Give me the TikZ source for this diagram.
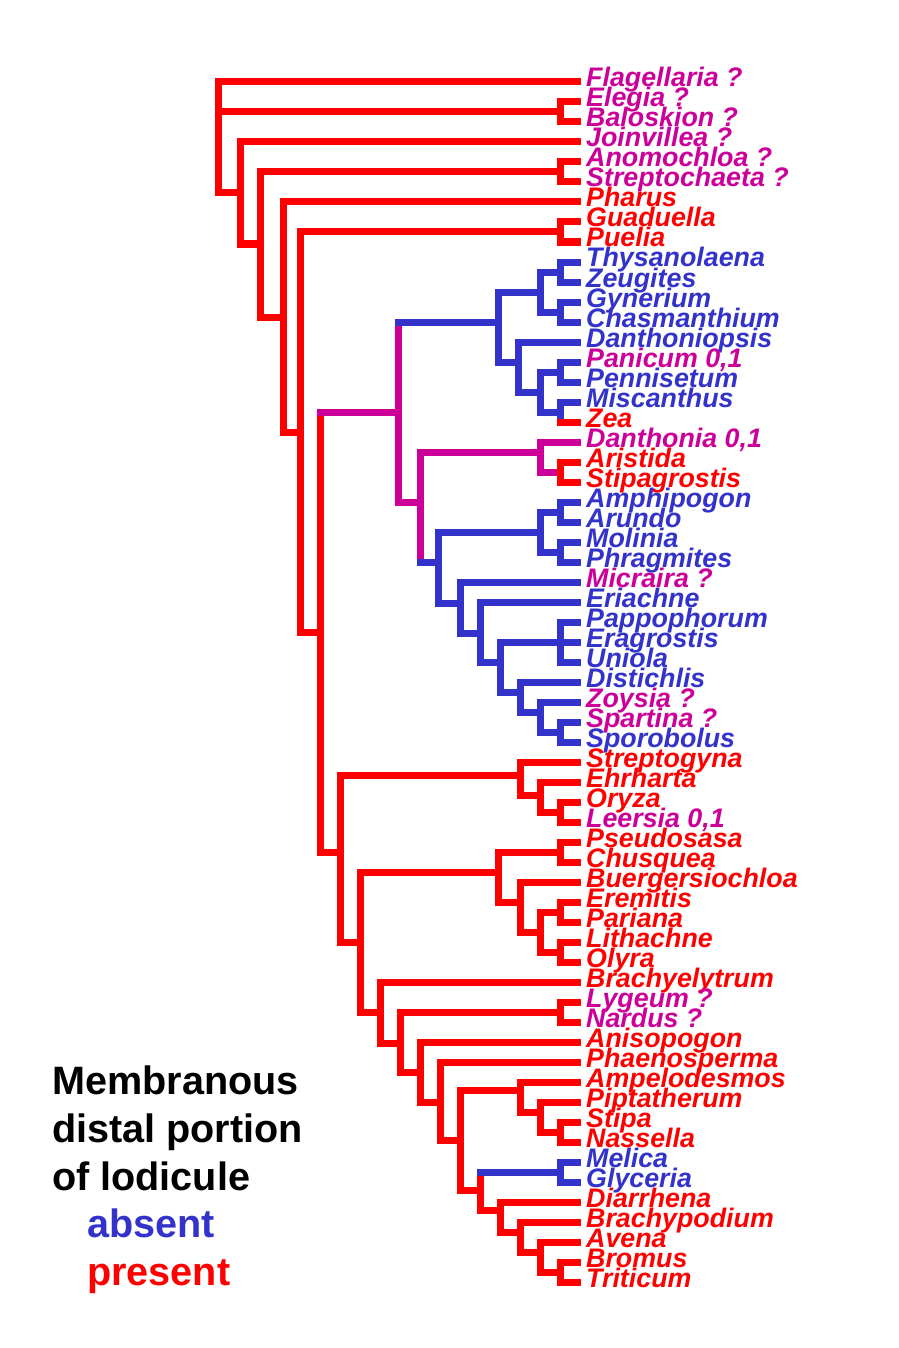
\documentclass[tikz,border=0pt]{standalone}
\usepackage{fontspec}
\setmainfont{Liberation Sans}
\definecolor{pres}{RGB}{255,0,0}
\definecolor{absn}{RGB}{51,51,204}
\definecolor{ambg}{RGB}{204,0,153}
\tikzset{
  br/.style={line width=7bp, line cap=rect},
  taxon/.style={anchor=base west, inner sep=0pt, font=\fontsize{26.8bp}{26.8bp}\selectfont\bfseries\itshape},
  legend/.style={anchor=base west, inner sep=0pt, font=\fontsize{39.6bp}{39.6bp}\selectfont\bfseries}
}
% vertical bar of a node, and the horizontal to one of its children
\newcommand\spine[4]{\draw[br,#1] (#2 |- #3) -- (#2 |- #4);}
\newcommand\kid[3]{\draw[br,#1] (#2 |- #3) -- (#3);}
\newcommand\fork[4][pres]{\spine{#1}{#2}{#3}{#4}\kid{#1}{#2}{#3}\kid{#1}{#2}{#4}}

\begin{document}
\begin{tikzpicture}[x=1bp,y=-1bp]
  %%%%% START %%%%%
  \fill[white] (0,0) rectangle (898,1348);
  \useasboundingbox (0,0) rectangle (898,1348);

  % taxa
  \foreach \i/\nm/\c in {1/Flagellaria ?/ambg, 2/Elegia ?/ambg, 3/Baloskion ?/ambg,
      4/Joinvillea ?/ambg, 5/Anomochloa ?/ambg, 6/Streptochaeta ?/ambg, 7/Pharus/pres,
      8/Guaduella/pres, 9/Puelia/pres, 10/Thysanolaena/absn, 11/Zeugites/absn,
      12/Gynerium/absn, 13/Chasmanthium/absn, 14/Danthoniopsis/absn,
      15/{Panicum 0,1}/ambg, 16/Pennisetum/absn, 17/Miscanthus/absn, 18/Zea/pres,
      19/{Danthonia 0,1}/ambg, 20/Aristida/pres, 21/Stipagrostis/pres,
      22/Amphipogon/absn, 23/Arundo/absn, 24/Molinia/absn, 25/Phragmites/absn,
      26/Micraira ?/ambg, 27/Eriachne/absn, 28/Pappophorum/absn, 29/Eragrostis/absn,
      30/Uniola/absn, 31/Distichlis/absn, 32/Zoysia ?/ambg, 33/Spartina ?/ambg,
      34/Sporobolus/absn, 35/Streptogyna/pres, 36/Ehrharta/pres, 37/Oryza/pres,
      38/{Leersia 0,1}/ambg, 39/Pseudosasa/pres, 40/Chusquea/pres,
      41/Buergersiochloa/pres, 42/Eremitis/pres, 43/Pariana/pres, 44/Lithachne/pres,
      45/Olyra/pres, 46/Brachyelytrum/pres, 47/Lygeum ?/ambg, 48/Nardus ?/ambg,
      49/Anisopogon/pres, 50/Phaenosperma/pres, 51/Ampelodesmos/pres,
      52/Piptatherum/pres, 53/Stipa/pres, 54/Nassella/pres, 55/Melica/absn,
      56/Glyceria/absn, 57/Diarrhena/pres, 58/Brachypodium/pres, 59/Avena/pres,
      60/Bromus/pres, 61/Triticum/pres}{
    \coordinate (t\i) at (577,{82+20*(\i-1)});
    \node[taxon,text=\c] (l\i) at (586,{87+20*(\i-1)}) {\nm};
  }

  % internal nodes
  \coordinate (root) at (218,137);
  \coordinate (nEB) at (560,112);
  \coordinate (nA) at (240,193);
  \coordinate (nB) at (260,244);
  \coordinate (nAS) at (560,172);
  \coordinate (nC) at (283,317);
  \coordinate (nD) at (300,432);
  \coordinate (nGP) at (560,232);
  \coordinate (nE) at (320,632);
  \coordinate (nPM) at (398,412);
  \coordinate (nG) at (498,322);
  \coordinate (nG1) at (540,292);
  \coordinate (nTZ) at (560,272);
  \coordinate (nGC) at (560,312);
  \coordinate (nG2) at (518,362);
  \coordinate (nG3) at (540,392);
  \coordinate (nPP) at (560,372);
  \coordinate (nMZ) at (560,412);
  \coordinate (nH) at (420,502);
  \coordinate (nDA) at (540,452);
  \coordinate (nAR) at (560,472);
  \coordinate (nI) at (438,562);
  \coordinate (nAM) at (540,532);
  \coordinate (nAA) at (560,512);
  \coordinate (nMP) at (560,552);
  \coordinate (nJ) at (460,603);
  \coordinate (nK) at (480,633);
  \coordinate (nL) at (500,662);
  \coordinate (nPEU) at (560,642);
  \coordinate (nM) at (520,692);
  \coordinate (nN) at (540,712);
  \coordinate (nSS) at (560,732);
  \coordinate (nF) at (340,852);
  \coordinate (nO) at (520,775);
  \coordinate (nO2) at (540,795);
  \coordinate (nOL) at (560,812);
  \coordinate (nP) at (360,942);
  \coordinate (nQ) at (498,872);
  \coordinate (nPC) at (560,852);
  \coordinate (nQ2) at (520,902);
  \coordinate (nQ3) at (540,932);
  \coordinate (nEP) at (560,912);
  \coordinate (nLO) at (560,952);
  \coordinate (nBr) at (380,1012);
  \coordinate (nS) at (400,1043);
  \coordinate (nLN) at (560,1012);
  \coordinate (nT) at (420,1072);
  \coordinate (nU) at (440,1102);
  \coordinate (nV) at (460,1140);
  \coordinate (nW) at (520,1090);
  \coordinate (nW2) at (540,1112);
  \coordinate (nSN) at (560,1132);
  \coordinate (nX) at (480,1190);
  \coordinate (nMG) at (560,1172);
  \coordinate (nY) at (500,1210);
  \coordinate (nZ) at (520,1232);
  \coordinate (nZ2) at (540,1252);
  \coordinate (nBT) at (560,1272);

  % early lineages
  \spine{pres}{root}{t1}{nA}
  \kid{pres}{root}{t1} \kid{pres}{root}{nEB} \kid{pres}{root}{nA}
  \fork{nEB}{t2}{t3}
  \fork{nA}{t4}{nB}
  \fork{nB}{nAS}{nC}
  \fork{nAS}{t5}{t6}
  \fork{nC}{t7}{nD}
  \fork{nD}{nGP}{nE}
  \fork{nGP}{t8}{t9}
  \spine{pres}{nE}{nPM}{nF}
  \kid{ambg}{nE}{nPM} \kid{pres}{nE}{nF}

  % PACCMAD and relatives
  \spine{ambg}{nPM}{nG}{nH}
  \kid{absn}{nPM}{nG} \kid{ambg}{nPM}{nH}
  \fork[absn]{nG}{nG1}{nG2}
  \fork[absn]{nG1}{nTZ}{nGC}
  \fork[absn]{nTZ}{t10}{t11}
  \fork[absn]{nGC}{t12}{t13}
  \fork[absn]{nG2}{t14}{nG3}
  \fork[absn]{nG3}{nPP}{nMZ}
  \fork[absn]{nPP}{t15}{t16}
  \spine{absn}{nMZ}{t17}{t18}
  \kid{absn}{nMZ}{t17} \kid{pres}{nMZ}{t18}
  \spine{ambg}{nH}{nDA}{nI}
  \kid{ambg}{nH}{nDA} \kid{absn}{nH}{nI}
  \fork[ambg]{nDA}{t19}{nAR}
  \fork{nAR}{t20}{t21}
  \fork[absn]{nI}{nAM}{nJ}
  \fork[absn]{nAM}{nAA}{nMP}
  \fork[absn]{nAA}{t22}{t23}
  \fork[absn]{nMP}{t24}{t25}
  \fork[absn]{nJ}{t26}{nK}
  \fork[absn]{nK}{t27}{nL}
  \fork[absn]{nL}{nPEU}{nM}
  \spine{absn}{nPEU}{t28}{t30}
  \kid{absn}{nPEU}{t28} \kid{absn}{nPEU}{t29} \kid{absn}{nPEU}{t30}
  \fork[absn]{nM}{t31}{nN}
  \fork[absn]{nN}{t32}{nSS}
  \fork[absn]{nSS}{t33}{t34}

  % BEP
  \fork{nF}{nO}{nP}
  \fork{nO}{t35}{nO2}
  \fork{nO2}{t36}{nOL}
  \fork{nOL}{t37}{t38}
  \fork{nP}{nQ}{nBr}
  \fork{nQ}{nPC}{nQ2}
  \fork{nPC}{t39}{t40}
  \fork{nQ2}{t41}{nQ3}
  \fork{nQ3}{nEP}{nLO}
  \fork{nEP}{t42}{t43}
  \fork{nLO}{t44}{t45}
  \fork{nBr}{t46}{nS}
  \fork{nS}{nLN}{nT}
  \fork{nLN}{t47}{t48}
  \fork{nT}{t49}{nU}
  \fork{nU}{t50}{nV}
  \fork{nV}{nW}{nX}
  \fork{nW}{t51}{nW2}
  \fork{nW2}{t52}{nSN}
  \fork{nSN}{t53}{t54}
  \spine{pres}{nX}{nMG}{nY}
  \kid{absn}{nX}{nMG} \kid{pres}{nX}{nY}
  \fork[absn]{nMG}{t55}{t56}
  \fork{nY}{t57}{nZ}
  \fork{nZ}{t58}{nZ2}
  \fork{nZ2}{t59}{nBT}
  \fork{nBT}{t60}{t61}

  % legend
  \node[legend] (leg1) at (52,1094) {Membranous};
  \node[legend] (leg2) at (52,1142) {distal portion};
  \node[legend] (leg3) at (52,1190) {of lodicule};
  \node[legend,text=absn] (leg4) at (87,1237) {absent};
  \node[legend,text=pres] (leg5) at (87,1285) {present};
  %%%%% END %%%%%
\end{tikzpicture}
\end{document}
